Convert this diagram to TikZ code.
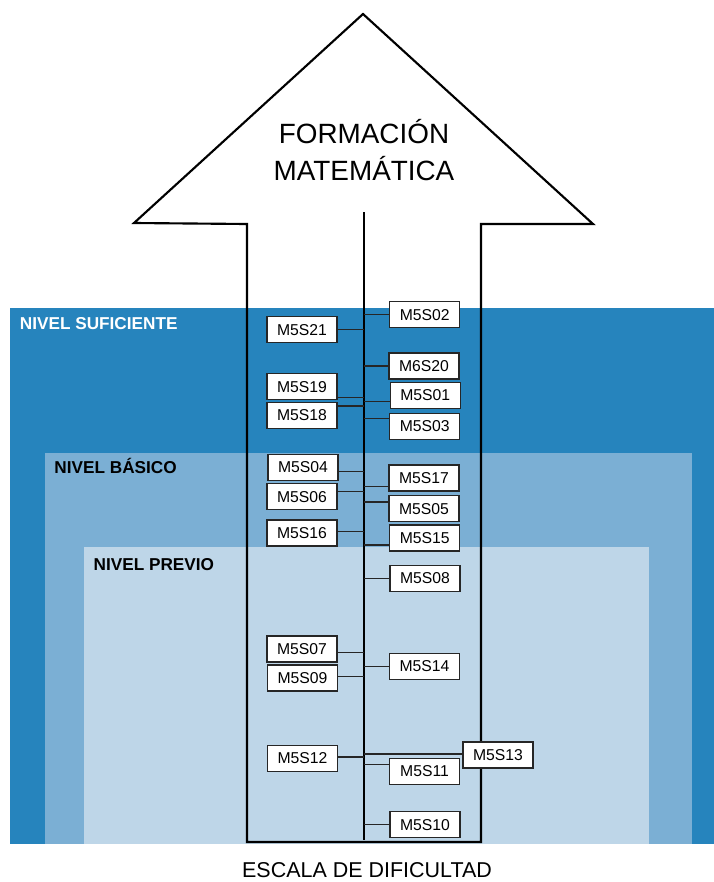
\documentclass[tikz,border=0pt]{standalone}
\usepackage{fontspec}
\setmainfont{Liberation Sans}
\usepackage{tikz}
\usetikzlibrary{calc}
\definecolor{nivSuf}{RGB}{38,132,189}
\definecolor{nivBas}{RGB}{123,175,212}
\definecolor{nivPre}{RGB}{190,214,232}
\colorlet{boxLine}{black!85}

\begin{document}
\begin{tikzpicture}[
  x=0.75pt, y=-0.75pt,
  level/.style={font=\fontsize{12.9}{15}\selectfont\bfseries, anchor=base west, inner sep=0pt},
  unit/.style={draw=boxLine, fill=white, line width=0.8pt, minimum width=52.5pt, minimum height=19.5pt,
    inner sep=0pt, font=\fontsize{11.8}{14}\selectfont},
  link/.style={line width=0.8pt, draw=boxLine},
]
  \useasboundingbox (0,0) rectangle (714,882);
  % levels
  \fill[nivSuf] (10,308) rectangle (714,844);
  \fill[nivBas] (45,453) rectangle (692,844);
  \fill[nivPre] (84,547) rectangle (649,844);
  \node[level, text=white] (lsuf) at (19.6,329.3) {NIVEL SUFICIENTE};
  \node[level] (lbas) at (54.2,473.3) {NIVEL BÁSICO};
  \node[level] (lpre) at (93.4,570) {NIVEL PREVIO};

  % big arrow and axis
  \draw[line width=1.6pt, line join=miter]
    (247,842) -- (247,224) -- (134,223) -- (363,14) -- (593,224) -- (481,224) -- (481,842) -- cycle;
  \coordinate (axtop) at (364,212);
  \coordinate (axbot) at (364,840);
  \draw[line width=1.6pt] (axtop) -- (axbot);
  \node[align=center, font=\fontsize{20.9}{27.5}\selectfont, anchor=base] (title) at (364,180)
    {FORMACIÓN\\MATEMÁTICA};
  \node[font=\fontsize{16.1}{19}\selectfont, anchor=base] (scale) at (367,877) {ESCALA DE DIFICULTAD};

  % left units
  \node[unit] (s21) at (302,329.7) {M5S21};
  \node[unit] (s19) at (302,386.7) {M5S19};
  \node[unit] (s18) at (302,415.5) {M5S18};
  \node[unit] (s04) at (303,467.3) {M5S04};
  \node[unit] (s06) at (302,496.8) {M5S06};
  \node[unit] (s16) at (302,533) {M5S16};
  \node[unit] (s07) at (302,649) {M5S07};
  \node[unit] (s09) at (302.5,678) {M5S09};
  \node[unit] (s12) at (302.5,758.5) {M5S12};

  % right units
  \node[unit] (s02) at (424.7,314.8) {M5S02};
  \node[unit] (s20) at (424,366) {M6S20};
  \node[unit] (s01) at (425.3,395.5) {M5S01};
  \node[unit] (s03) at (424.7,426.2) {M5S03};
  \node[unit] (s17) at (424,478) {M5S17};
  \node[unit] (s05) at (424,508.8) {M5S05};
  \node[unit] (s15) at (424.7,538) {M5S15};
  \node[unit] (s08) at (425,578.3) {M5S08};
  \node[unit] (s14) at (424.5,666.3) {M5S14};
  \node[unit] (s11) at (424.5,771.3) {M5S11};
  \node[unit] (s10) at (425,824.7) {M5S10};
  \node[unit] (s13) at (498,755) {M5S13};

  % links to the axis
  \draw[link] (s21.east) -- (s21.east -| axtop);
  \draw[link] ($(s19.east)+(0,10.6)$) coordinate (c19) -- (c19 -| axtop);
  \draw[link] ($(s18.east)+(0,-9.5)$) coordinate (c18) -- (c18 -| axtop);
  \draw[link] ($(s04.east)+(0,4)$) coordinate (c04) -- (c04 -| axtop);
  \draw[link] ($(s06.east)+(0,-5.5)$) coordinate (c06) -- (c06 -| axtop);
  \draw[link] ($(s16.east)+(0,-1.3)$) coordinate (c16) -- (c16 -| axtop);
  \draw[link] ($(s07.east)+(0,3.7)$) coordinate (c07) -- (c07 -| axtop);
  \draw[link] ($(s09.east)+(0,-1.3)$) coordinate (c09) -- (c09 -| axtop);
  \draw[link] ($(s12.east)+(0,-1.5)$) coordinate (c12) -- (c12 -| axtop);
  \draw[link] (s02.west) -- (s02.west -| axtop);
  \draw[link] (s20.west) -- (s20.west -| axtop);
  \draw[link] ($(s01.west)+(0,6.2)$) coordinate (c01) -- (c01 -| axtop);
  \draw[link] ($(s03.west)+(0,-7.5)$) coordinate (c03) -- (c03 -| axtop);
  \draw[link] ($(s17.west)+(0,8.7)$) coordinate (c17) -- (c17 -| axtop);
  \draw[link] ($(s05.west)+(0,-6.8)$) coordinate (c05) -- (c05 -| axtop);
  \draw[link] ($(s15.west)+(0,7)$) coordinate (c15) -- (c15 -| axtop);
  \draw[link] (s08.west) -- (s08.west -| axtop);
  \draw[link] (s14.west) -- (s14.west -| axtop);
  \draw[link] ($(s11.west)+(0,-7)$) coordinate (c11) -- (c11 -| axtop);
  \draw[link] (s10.west) -- (s10.west -| axtop);
  \draw[link] ($(s13.west)+(0,-1)$) coordinate (c13) -- (c13 -| axtop);
\end{tikzpicture}
\end{document}
